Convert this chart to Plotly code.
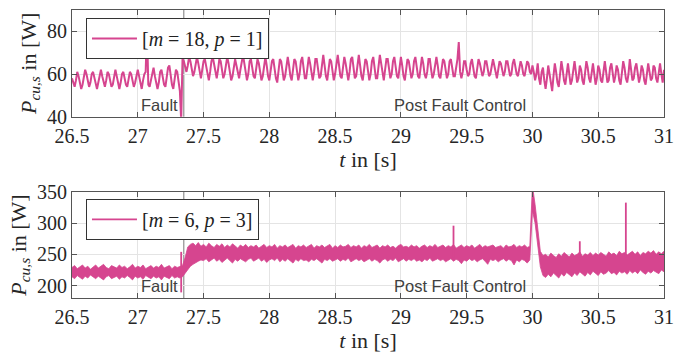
import numpy as np
import plotly.graph_objects as go

COLOR = '#d6458f'

# ---------------- top panel: m = 18, p = 1 (samples every 10 ms from 26.5 s) ----------------
top_start, top_step = 26.5, 0.01
top_rows = [
    [58, 56, 54, 57, 61, 59, 56, 53, 55, 59],   # 26.5
    [62, 60, 57, 54, 56, 60, 61, 58, 55, 53],
    [56, 60, 62, 59, 56, 54, 57, 61, 60, 57],
    [54, 55, 59, 62, 59, 56, 53, 56, 60, 61],
    [58, 55, 54, 57, 61, 60, 57, 54, 56, 60],
    [62, 59, 56, 53, 57, 60, 61, 82, 55, 54],   # 27.0
    [57, 61, 63, 59, 55, 53, 56, 61, 62, 58],
    [55, 54, 58, 63, 64, 59, 55, 53, 57, 62],
    [61, 56, 52, 38, 67, 66, 63, 61, 64, 68],
    [66, 62, 59, 61, 65, 68, 65, 61, 58, 62],
    [66, 67, 63, 59, 57, 61, 66, 68, 64, 60],   # 27.5
    [58, 62, 67, 66, 62, 58, 60, 65, 68, 65],
    [61, 57, 59, 64, 67, 64, 60, 58, 62, 66],
    [69, 65, 60, 57, 60, 66, 67, 63, 59, 58],
    [63, 67, 65, 61, 57, 59, 65, 68, 64, 59],
    [57, 61, 66, 67, 62, 58, 56, 62, 67, 66],   # 28.0
    [61, 57, 59, 65, 68, 64, 59, 57, 62, 67],
    [66, 61, 57, 60, 66, 68, 63, 58, 58, 64],
    [68, 65, 60, 57, 61, 67, 67, 62, 58, 59],
    [65, 69, 64, 59, 57, 62, 67, 66, 61, 57],
    [60, 66, 69, 64, 59, 58, 63, 68, 65, 60],   # 28.5
    [57, 61, 67, 68, 63, 58, 59, 65, 69, 64],
    [59, 57, 62, 67, 66, 61, 57, 60, 66, 68],
    [63, 58, 58, 64, 69, 65, 60, 57, 62, 67],
    [67, 62, 58, 60, 66, 68, 63, 59, 58, 64],
    [68, 64, 59, 57, 62, 67, 66, 61, 58, 60],   # 29.0
    [66, 68, 63, 59, 58, 63, 68, 65, 60, 58],
    [61, 67, 67, 62, 58, 60, 65, 68, 64, 59],
    [58, 62, 67, 66, 61, 58, 60, 66, 67, 63],
    [59, 59, 64, 67, 75, 61, 58, 61, 66, 66],
    [62, 59, 60, 65, 67, 63, 59, 58, 63, 67],   # 29.5
    [65, 61, 59, 61, 66, 66, 62, 59, 60, 64],
    [67, 64, 60, 58, 62, 66, 65, 61, 59, 61],
    [66, 66, 62, 59, 60, 65, 67, 63, 60, 59],
    [63, 66, 64, 60, 59, 62, 66, 65, 61, 60],
    [64, 61, 57, 60, 65, 58, 55, 61, 63, 57],   # 30.0
    [53, 58, 64, 60, 55, 52, 59, 65, 61, 56],
    [54, 60, 66, 62, 57, 55, 61, 65, 60, 55],
    [57, 63, 66, 61, 56, 58, 64, 62, 57, 55],
    [60, 66, 63, 58, 56, 61, 65, 60, 55, 58],
    [64, 62, 57, 56, 62, 66, 61, 56, 57, 63],   # 30.5
    [65, 60, 56, 59, 64, 62, 57, 55, 61, 66],
    [63, 58, 56, 60, 67, 62, 57, 58, 63, 65],
    [60, 56, 59, 64, 62, 57, 55, 61, 65, 61],
    [57, 58, 64, 63, 58, 56, 61, 65, 60, 56],
    [62],                                       # 31.0
]
top_vals = [v for row in top_rows for v in row]
top_t = np.round(top_start + top_step * np.arange(len(top_vals)), 3)

# ---------------- bottom panel: m = 6, p = 3 (band envelope every 20 ms from 26.5 s) ----------------
bot_start, bot_step = 26.5, 0.02
bot_upper_rows = [
    [229, 232, 227, 230, 233, 228, 231, 226, 230, 233],   # 26.5
    [228, 231, 234, 229, 227, 232, 230, 228, 233, 229],
    [231, 227, 230, 234, 228, 231, 229, 233, 227, 230],
    [232, 228, 231, 229, 234, 228, 230, 232, 227, 231],
    [229, 231, 232, 245, 262, 266, 268, 264, 269, 263],   # 27.3
    [266, 262, 268, 264, 261, 266, 263, 267, 261, 265],
    [262, 267, 263, 260, 265, 262, 266, 261, 264, 262],
    [265, 260, 263, 266, 261, 264, 262, 266, 260, 264],
    [262, 265, 261, 263, 266, 260, 264, 262, 265, 261],
    [263, 266, 260, 264, 262, 265, 261, 264, 266, 260],
    [264, 261, 265, 262, 263, 266, 261, 264, 262, 265],   # 28.5
    [260, 264, 262, 266, 261, 263, 265, 260, 264, 262],
    [265, 261, 263, 260, 264, 266, 262, 263, 261, 265],
    [262, 264, 260, 263, 265, 261, 264, 262, 266, 261],
    [263, 265, 261, 264, 262, 266, 260, 263, 265, 261],
    [264, 262, 265, 260, 263, 266, 261, 264, 262, 263],   # 29.5
    [265, 261, 263, 264, 260, 265, 262, 263, 266, 261],
    [264, 262, 265, 261, 263, 360, 330, 290, 255, 248],   # 29.9
    [250, 246, 252, 248, 245, 251, 247, 253, 249, 246],
    [252, 248, 250, 254, 247, 251, 249, 253, 248, 252],
    [249, 253, 250, 247, 254, 250, 252, 248, 255, 251],   # 30.5
    [253, 249, 252, 255, 250, 254, 248, 253, 251, 255],
    [252, 256, 250, 254, 251, 255],                       # 30.9
]
bot_lower_rows = [
    [214, 211, 216, 213, 210, 215, 212, 217, 214, 211],   # 26.5
    [215, 212, 209, 214, 216, 211, 213, 215, 210, 214],
    [212, 216, 213, 209, 215, 212, 214, 210, 216, 213],
    [211, 215, 212, 214, 209, 215, 213, 211, 216, 212],
    [214, 212, 214, 220, 226, 231, 234, 237, 239, 241],   # 27.3
    [240, 243, 238, 241, 244, 239, 242, 237, 241, 244],
    [240, 236, 242, 239, 243, 240, 238, 242, 244, 239],
    [241, 244, 239, 242, 237, 241, 243, 240, 244, 238],
    [242, 239, 243, 240, 236, 242, 239, 243, 240, 241],
    [238, 242, 240, 243, 239, 236, 242, 240, 243, 239],
    [241, 243, 239, 242, 240, 244, 238, 241, 243, 240],   # 28.5
    [242, 238, 241, 243, 239, 242, 240, 236, 241, 243],
    [239, 242, 240, 244, 238, 241, 243, 239, 242, 240],
    [243, 239, 241, 238, 242, 240, 244, 239, 241, 243],
    [240, 242, 238, 241, 243, 239, 242, 240, 235, 241],
    [239, 243, 240, 242, 238, 241, 243, 239, 234, 242],   # 29.5
    [240, 242, 238, 241, 243, 239, 242, 240, 233, 241],
    [238, 242, 240, 236, 241, 320, 300, 265, 230, 216],   # 29.9
    [213, 218, 214, 220, 216, 212, 219, 215, 221, 217],
    [214, 220, 216, 222, 218, 215, 221, 217, 223, 219],
    [216, 222, 218, 220, 224, 219, 221, 217, 223, 220],   # 30.5
    [222, 218, 224, 220, 223, 219, 225, 221, 218, 223],
    [220, 224, 221, 219, 225, 222],                       # 30.9
]
bot_upper = [v for row in bot_upper_rows for v in row]
bot_lower = [v for row in bot_lower_rows for v in row]
bot_t = np.round(bot_start + bot_step * np.arange(len(bot_upper)), 3)

# isolated spikes in the bottom signal
spike_t = [27.33, 29.40, 30.36, 30.71]
spike_hi = [254, 296, 271, 333]
spike_lo = [189, 245, 245, 245]

# events
event_t = [27.35, 30.0]
event_labels = ['Fault', 'Post Fault Control']

x_ticks = [26.5, 27, 27.5, 28, 28.5, 29, 29.5, 30, 30.5, 31]
x_ticktext = ['26.5', '27', '27.5', '28', '28.5', '29', '29.5', '30', '30.5', '31']
top_yticks = [40, 60, 80]
bot_yticks = [200, 250, 300, 350]
top_yrange = [40, 90]
bot_yrange = [180, 350]
x_range = [26.5, 31]

legend_top = '[<i>m</i> = 18, <i>p</i> = 1]'
legend_bot = '[<i>m</i> = 6, <i>p</i> = 3]'

SERIF = 'Liberation Serif'
SANS = 'Liberation Sans'
TXT = '#262626'

fig = go.Figure()

fig.add_trace(go.Scatter(
    x=top_t, y=top_vals, mode='lines', name=legend_top,
    line=dict(color=COLOR, width=2), xaxis='x', yaxis='y',
    legend='legend', showlegend=True))

fig.add_trace(go.Scatter(
    x=bot_t, y=bot_lower, mode='lines', line=dict(color=COLOR, width=0.8),
    xaxis='x2', yaxis='y2', showlegend=False))
fig.add_trace(go.Scatter(
    x=bot_t, y=bot_upper, mode='lines', line=dict(color=COLOR, width=0.8),
    fill='tonexty', fillcolor=COLOR,
    xaxis='x2', yaxis='y2', showlegend=False))

sx, sy = [], []
for t, lo, hi in zip(spike_t, spike_lo, spike_hi):
    sx += [t, t, None]
    sy += [lo, hi, None]
fig.add_trace(go.Scatter(
    x=sx, y=sy, mode='lines', name=legend_bot,
    line=dict(color=COLOR, width=1.8), xaxis='x2', yaxis='y2',
    legend='legend2', showlegend=True, connectgaps=False))

axis_common = dict(
    showgrid=True, gridcolor='#e4e4e4', gridwidth=1,
    showline=True, linecolor='#555555', linewidth=1, mirror='ticks',
    ticks='inside', ticklen=5, tickcolor='#555555',
    tickfont=dict(family=SERIF, size=20, color=TXT),
    zeroline=False, automargin=False,
)
title_font = dict(family=SERIF, size=22, color=TXT)
ytitle = '<i>P</i><sub><i>cu,s</i></sub> in [W]'
xtitle = '<i>t</i> in [s]'

fig.update_layout(
    width=675, height=354,
    paper_bgcolor='white', plot_bgcolor='white',
    margin=dict(l=72, r=11, t=10, b=56, autoexpand=False),
    xaxis=dict(domain=[0, 1], anchor='y', range=x_range, tickvals=x_ticks, ticktext=x_ticktext,
               ticklabelstandoff=1,
               title=dict(text=xtitle, font=title_font, standoff=2), **axis_common),
    yaxis=dict(domain=[0.6295, 1.0], anchor='x', range=top_yrange, tickvals=top_yticks,
               title=dict(text=ytitle, font=title_font, standoff=4), **axis_common),
    xaxis2=dict(domain=[0, 1], anchor='y2', range=x_range, tickvals=x_ticks, ticktext=x_ticktext,
                ticklabelstandoff=1,
                title=dict(text=xtitle, font=title_font, standoff=2), **axis_common),
    yaxis2=dict(domain=[0.0, 0.368], anchor='x2', range=bot_yrange, tickvals=bot_yticks,
                title=dict(text=ytitle, font=title_font, standoff=4), **axis_common),
    legend=dict(x=0.0236, y=0.972, xanchor='left', yanchor='top', bgcolor='white',
                bordercolor='#333333', borderwidth=1, itemwidth=45,
                font=dict(family=SERIF, size=20, color='#222222'), tracegroupgap=0),
    legend2=dict(x=0.0236, y=0.344, xanchor='left', yanchor='top', bgcolor='white',
                 bordercolor='#333333', borderwidth=1, itemwidth=45,
                 font=dict(family=SERIF, size=20, color='#222222'), tracegroupgap=0),
    showlegend=True,
)

shapes = []
annotations = []
for xr, yr in [('x', 'y domain'), ('x2', 'y2 domain')]:
    for t, lab in zip(event_t, event_labels):
        shapes.append(dict(type='line', xref=xr, yref=yr, x0=t, x1=t, y0=0, y1=1,
                           line=dict(color='#7a7a7a', width=1), layer='below'))
        annotations.append(dict(x=t, y=0.11, xref=xr, yref=yr, text=lab, showarrow=False,
                                xanchor='right', yanchor='middle', xshift=-4,
                                font=dict(family=SANS, size=16.5, color='#404040')))
fig.update_layout(shapes=shapes, annotations=annotations)

fig.write_html('out.html')
